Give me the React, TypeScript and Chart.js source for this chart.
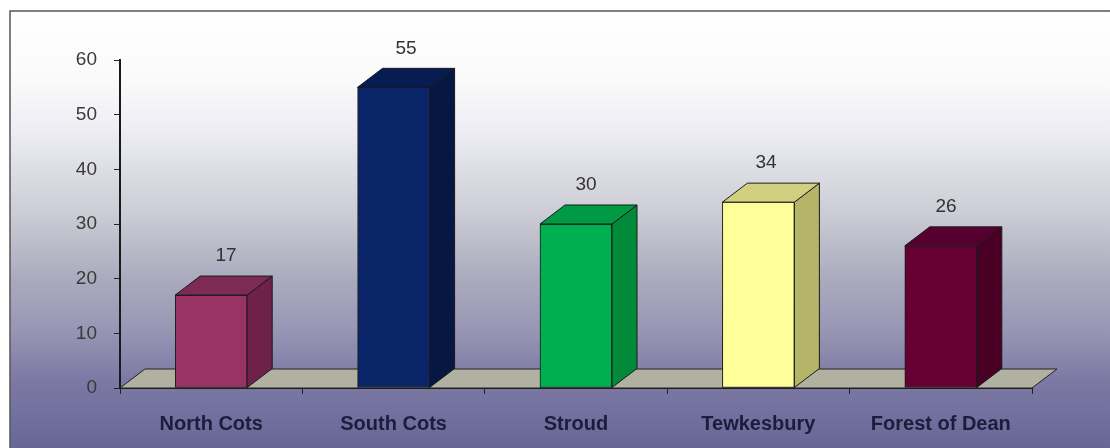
import React, { useEffect, useRef } from "react";
import { Chart, registerables } from "chart.js";

Chart.register(...registerables);

const districts = ["North Cots", "South Cots", "Stroud", "Tewkesbury", "Forest of Dean"];
const counts = [17, 55, 30, 34, 26];
const yTicks = [0, 10, 20, 30, 40, 50, 60];

const frontColors = ["#993366", "#0a2468", "#00b050", "#ffff99", "#660033"];
const sideColors = ["#6e2249", "#061743", "#008a3a", "#b5b56a", "#4a0025"];
const topColors = ["#7d2a55", "#071c52", "#009a44", "#d0d080", "#560030"];

// 3D depth offset of the extruded faces and the floor
const DX = 25;
const DY = -19;

const backdrop = {
  id: "backdrop",
  beforeDraw(chart: any) {
    const { ctx, width, height } = chart;
    ctx.save();
    ctx.fillStyle = "#ffffff";
    ctx.fillRect(0, 0, width, height);
    const g = ctx.createLinearGradient(0, 11, 0, height);
    const span = height - 11;
    const stop = (y: number, c: string) => g.addColorStop(Math.min(1, Math.max(0, (y - 11) / span)), c);
    stop(11, "#ffffff");
    stop(80, "#fafafa");
    stop(130, "#eeedf4");
    stop(170, "#dddee5");
    stop(220, "#c8c9d2");
    stop(280, "#aaaabe");
    stop(330, "#9896b4");
    stop(380, "#7c7aa4");
    stop(448, "#686696");
    ctx.fillStyle = g;
    ctx.fillRect(10, 11, width - 10, height - 11);
    ctx.strokeStyle = "#555555";
    ctx.lineWidth = 1.5;
    ctx.beginPath();
    ctx.moveTo(10, height);
    ctx.lineTo(10, 11);
    ctx.lineTo(width, 11);
    ctx.stroke();
    ctx.restore();
  },
};

const floor3d = {
  id: "floor3d",
  beforeDatasetsDraw(chart: any) {
    const { ctx, chartArea } = chart;
    const yScale = chart.scales.y;
    const y0 = yScale.getPixelForValue(0);
    ctx.save();
    ctx.beginPath();
    ctx.moveTo(chartArea.left, y0);
    ctx.lineTo(chartArea.left + DX, y0 + DY);
    ctx.lineTo(chartArea.right + DX, y0 + DY);
    ctx.lineTo(chartArea.right, y0);
    ctx.closePath();
    ctx.fillStyle = "#b0b1a0";
    ctx.fill();
    ctx.strokeStyle = "#222222";
    ctx.lineWidth = 1;
    ctx.stroke();
    ctx.restore();
  },
};

const bars3d = {
  id: "bars3d",
  afterDatasetsDraw(chart: any) {
    const { ctx, chartArea } = chart;
    const meta = chart.getDatasetMeta(0);
    ctx.save();
    ctx.lineWidth = 1;
    ctx.strokeStyle = "#1a1a1a";
    meta.data.forEach((bar: any, i: number) => {
      const left = bar.x - bar.width / 2;
      const right = bar.x + bar.width / 2;
      const top = bar.y;
      const base = bar.base;
      // side face
      ctx.beginPath();
      ctx.moveTo(right, top);
      ctx.lineTo(right + DX, top + DY);
      ctx.lineTo(right + DX, base + DY);
      ctx.lineTo(right, base);
      ctx.closePath();
      ctx.fillStyle = sideColors[i];
      ctx.fill();
      ctx.stroke();
      // top face
      ctx.beginPath();
      ctx.moveTo(left, top);
      ctx.lineTo(left + DX, top + DY);
      ctx.lineTo(right + DX, top + DY);
      ctx.lineTo(right, top);
      ctx.closePath();
      ctx.fillStyle = topColors[i];
      ctx.fill();
      ctx.stroke();
      // value label, shifted less to the right further along the axis (perspective)
      const frac = (bar.x - chartArea.left) / (chartArea.right - chartArea.left);
      const shift = 16 - frac * 12;
      ctx.fillStyle = "#333333";
      ctx.font = "19px 'Liberation Sans', Arial, sans-serif";
      ctx.textAlign = "center";
      ctx.textBaseline = "middle";
      ctx.fillText(String(counts[i]), bar.x + shift, top + DY - 20);
    });
    ctx.restore();
  },
};

export default function App() {
  const ref = useRef<HTMLCanvasElement>(null);

  useEffect(() => {
    if (!ref.current) return;
    const chart = new Chart(ref.current, {
      type: "bar",
      data: {
        labels: districts,
        datasets: [
          {
            data: counts,
            backgroundColor: frontColors,
            borderColor: "#1a1a1a",
            borderWidth: 1,
            borderSkipped: false,
            barThickness: 72,
          },
        ],
      },
      options: {
        responsive: false,
        animation: false,
        layout: { padding: { left: 0, top: 60, right: 78, bottom: 0 } },
        plugins: {
          legend: { display: false },
          tooltip: { enabled: false },
        },
        scales: {
          x: {
            afterFit: (s: any) => {
              s.height = 60;
            },
            grid: {
              offset: true,
              drawOnChartArea: false,
              drawTicks: true,
              tickLength: 6,
              color: "#222222",
            },
            border: { display: true, color: "#1a1a1a", width: 2 },
            ticks: {
              padding: 18,
              color: "#1c1c3c",
              font: { family: "'Liberation Sans', Arial, sans-serif", size: 20, weight: "bold" },
            },
          },
          y: {
            min: 0,
            max: 60,
            afterFit: (s: any) => {
              s.width = 120;
            },
            afterBuildTicks: (s: any) => {
              s.ticks = yTicks.map((v) => ({ value: v }));
            },
            grid: {
              drawOnChartArea: false,
              drawTicks: true,
              tickLength: 6,
              color: "#222222",
            },
            border: { display: true, color: "#1a1a1a", width: 2 },
            ticks: {
              padding: 17,
              color: "#3a3a3a",
              font: { family: "'Liberation Sans', Arial, sans-serif", size: 19 },
            },
          },
        },
      },
      plugins: [backdrop, floor3d, bars3d],
    });
    return () => chart.destroy();
  }, []);

  return (
    <div style={{ position: "absolute", left: 0, top: 0, width: 1110, height: 448 }}>
      <canvas ref={ref} width={1110} height={448} style={{ display: "block" }} />
    </div>
  );
}
